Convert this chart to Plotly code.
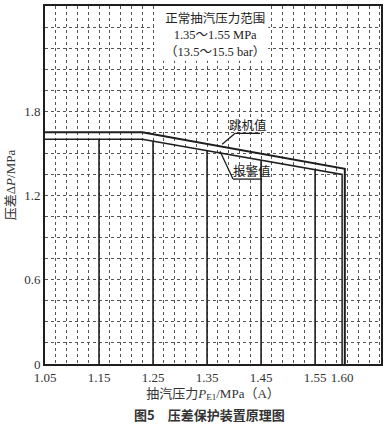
import numpy as np
import plotly.graph_objects as go

# ---- data ----
trip_x = [1.05, 1.23, 1.605, 1.605]
trip_y = [1.65, 1.65, 1.39, 0.0]
alarm_x = [1.05, 1.23, 1.60, 1.60]
alarm_y = [1.60, 1.60, 1.35, 0.0]
rung_x = [1.15, 1.25, 1.35, 1.45, 1.55]
x_tick_vals = [1.05, 1.15, 1.25, 1.35, 1.45, 1.55, 1.60]
x_tick_text = ["1.05", "1.15", "1.25", "1.35", "1.45", "1.55", "1.60"]
y_tick_vals = [0, 0.6, 1.2, 1.8]
y_tick_text = ["0", "0.6", "1.2", "1.8"]

serif = "Liberation Serif, Times New Roman, serif"
cjk = "Noto Sans CJK SC, sans-serif"
ink = "#1e1e1e"

fig = go.Figure()

# vertical rungs from 0 up to the alarm curve
rung_top = np.interp(rung_x, alarm_x[:3], alarm_y[:3])
vx, vy = [], []
for x, t in zip(rung_x, rung_top):
    vx += [x, x, None]
    vy += [0, t, None]
fig.add_trace(go.Scatter(x=vx, y=vy, mode="lines",
                         line=dict(color=ink, width=1.6), hoverinfo="skip", showlegend=False))
fig.add_trace(go.Scatter(x=alarm_x, y=alarm_y, mode="lines",
                         line=dict(color=ink, width=1.5), showlegend=False))
fig.add_trace(go.Scatter(x=trip_x, y=trip_y, mode="lines",
                         line=dict(color=ink, width=2), showlegend=False))

# white box behind range note
fig.add_shape(type="rect", x0=1.252, x1=1.463, y0=2.16, y1=2.55,
              fillcolor="white", line=dict(width=0), layer="above")
fig.add_annotation(x=1.365, y=2.345, xref="x", yref="y",
                   text="正常抽汽压力范围<br>1.35～1.55 MPa<br>（13.5～15.5 bar）",
                   showarrow=False, font=dict(family="Liberation Serif, " + cjk, size=12.5, color="#222"),
                   align="center")

# leader lines
leader = dict(color=ink, width=1.3)
fig.add_shape(type="line", x0=1.378, y0=1.565, x1=1.402, y1=1.643, line=leader)
fig.add_shape(type="line", x0=1.402, y0=1.643, x1=1.448, y1=1.643, line=leader)
fig.add_shape(type="line", x0=1.374, y0=1.516, x1=1.398, y1=1.317, line=leader)
fig.add_shape(type="line", x0=1.398, y0=1.317, x1=1.452, y1=1.317, line=leader)
fig.add_annotation(x=1.425, y=1.705, text="跳机值", showarrow=False,
                   font=dict(family=cjk, size=12.5, color="#222"))
fig.add_annotation(x=1.433, y=1.375, text="报警值", showarrow=False,
                   font=dict(family=cjk, size=12.5, color="#222"))

# caption
fig.add_annotation(x=0.49, y=-0.14, xref="paper", yref="paper", xanchor="center", yanchor="middle",
                   text="<b>图5　压差保护装置原理图</b>", showarrow=False,
                   font=dict(family=cjk, size=13, color="#333"))

grid_col = "#555555"
fig.update_xaxes(range=[1.05, 1.672], tickmode="array", tickvals=x_tick_vals, ticktext=x_tick_text,
                 showgrid=False, zeroline=False, showline=True, mirror=True,
                 linecolor=ink, linewidth=2, ticks="",
                 tickfont=dict(family=serif, size=13, color="#333"),
                 minor=dict(tick0=1.05, dtick=0.02, showgrid=True, gridcolor=grid_col,
                            griddash="dot", gridwidth=1, ticks=""),
                 title=dict(text="抽汽压力<i>P</i><sub>E1</sub>/MPa（A）",
                            font=dict(family="Liberation Serif, " + cjk, size=13, color="#333"),
                            standoff=5))
fig.update_yaxes(range=[0, 2.55], tickmode="array", tickvals=y_tick_vals, ticktext=y_tick_text,
                 showgrid=False, zeroline=False, showline=True, mirror=True,
                 linecolor=ink, linewidth=2, ticks="",
                 tickfont=dict(family=serif, size=13, color="#333"),
                 minor=dict(tick0=0, dtick=0.15, showgrid=True, gridcolor=grid_col,
                            griddash="dot", gridwidth=1, ticks=""),
                 title=dict(text="压差Δ<i>P</i>/MPa",
                            font=dict(family="Liberation Serif, " + cjk, size=13, color="#333"),
                            standoff=6))

fig.update_layout(width=390, height=429, margin=dict(l=45, r=9, t=4, b=65),
                  paper_bgcolor="white", plot_bgcolor="white")

fig.write_html("out.html", config={"displayModeBar": False},
               post_script="document.body.style.margin='0';document.body.style.padding='0';")
